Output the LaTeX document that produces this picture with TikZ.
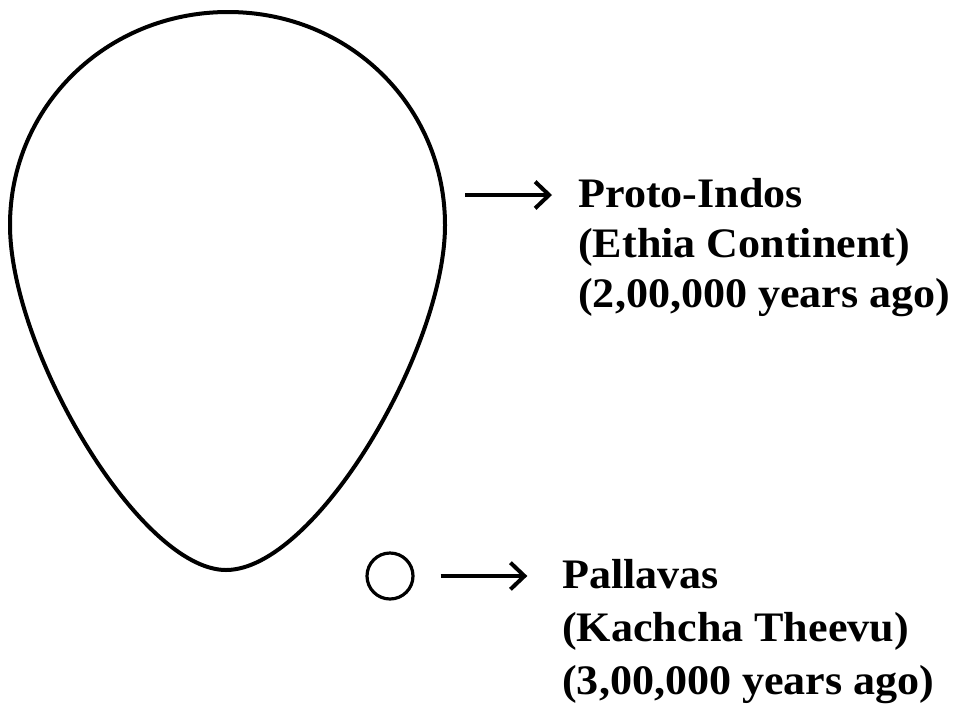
\documentclass[tikz,border=0pt]{standalone}
\usepackage{fontspec}
\setmainfont{Liberation Serif}[FakeStretch=1.05]
\usetikzlibrary{arrows.meta, positioning}
\tikzset{
    %Define standard arrow tip
    >={Straight Barb[length=10.5pt,width=20pt]},
}

\begin{document}
\begin{tikzpicture}[x=0.75pt, y=-0.75pt,
    outline/.style = {line width=3pt},
    lbl/.style = {font=\fontsize{31.5}{37}\selectfont\bfseries,
                  inner sep=0pt, anchor=base west},
    islet/.style = {circle, draw, line width=2.4pt, inner sep=0pt,
                    minimum size=34.5pt},
    pointer/.style = {->, line width=3pt},
  ]
  \useasboundingbox (0,0) rectangle (955,704);
  % continent
  \draw[outline] (228,12) .. controls (350,12) and (445,107) .. (445,225)
    .. controls (445,350) and (315,570) .. (226,570)
    .. controls (140,570) and (10,350) .. (10,225)
    .. controls (10,107) and (106,12) .. (228,12) -- cycle;
  \coordinate (continent) at (443,195);
  \node[islet] (theevu) at (390,576) {};
  \node[lbl] (proto) at (578,207) {Proto-Indos};
  \node[lbl] (ethia) at (578,257) {(Ethia Continent)};
  \node[lbl] (protoage) at (578,307) {(2,00,000 years ago)};
  \node[lbl] (pallava) at (562,588) {Pallavas};
  \node[lbl] (kachcha) at (562,641) {(Kachcha Theevu)};
  \node[lbl] (pallavaage) at (562,694) {(3,00,000 years ago)};
  \draw[pointer, shorten <=16.5pt, shorten >=19.5pt] (continent) -- (continent -| proto.west);
  \draw[pointer, shorten <=19.5pt, shorten >=26pt] (theevu.east) -- (theevu.east -| pallava.west);
\end{tikzpicture}
\end{document}
